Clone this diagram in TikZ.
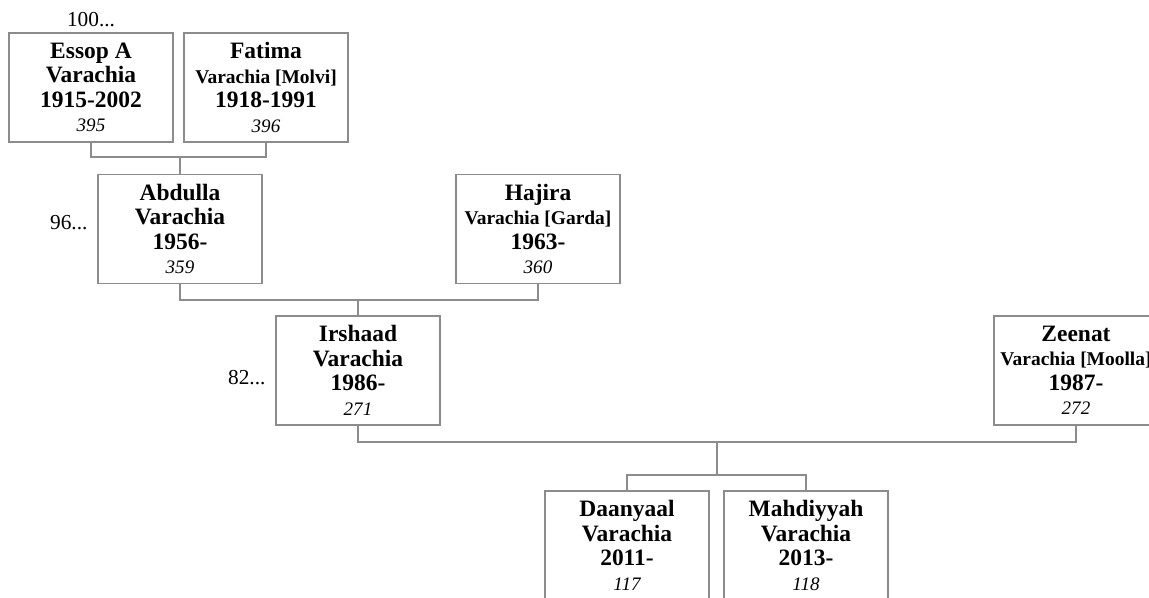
\documentclass[tikz,border=0pt]{standalone}
\usepackage{fontspec}
\setmainfont{Liberation Serif}
\usetikzlibrary{positioning}
\newcommand{\mdn}[1]{{\fontsize{14.6}{18.4}\selectfont #1}}
\newcommand{\pid}[1]{{\normalfont\fontsize{14.3}{18.4}\selectfont\itshape #1}}
\tikzset{
  prs/.style={rectangle,draw=black!45,fill=white,line width=.8pt,inner sep=0pt,
    minimum width=123pt,minimum height=81.75pt,align=center,
    font=\fontsize{17.6}{18.4}\selectfont\bfseries,
    execute at begin node=\rule{0pt}{15pt}},
  lnk/.style={draw=black!45,line width=.8pt},
  gn/.style={font=\fontsize{16}{18}\selectfont},
}
\begin{document}
\begin{tikzpicture}[x=0.75pt,y=-0.75pt]
\clip (0,0) rectangle (1149,597);
% ---- grandparents of Abdulla
\node[prs] (essop) at (91,87.5) {Essop A\\Varachia\\1915-2002\\\pid{395}};
\node[prs] (fatima) at (266,87.5) {Fatima\\\mdn{Varachia [Molvi]}\\1918-1991\\\pid{396}};
\node[gn] (g100) at (91,20) {100...};
% ---- parents of Irshaad
\node[prs] (abdulla) at (180,229) {Abdulla\\Varachia\\1956-\\\pid{359}};
\node[prs] (hajira) at (538,229) {Hajira\\\mdn{Varachia [Garda]}\\1963-\\\pid{360}};
\node[gn,left=4pt of abdulla.west,yshift=5pt] (g96) {96...};
% ---- couple
\node[prs] (irshaad) at (358,370.5) {Irshaad\\Varachia\\1986-\\\pid{271}};
\node[prs] (zeenat) at (1076,370.5) {Zeenat\\\mdn{Varachia [Moolla]}\\1987-\\\pid{272}};
\node[gn,left=4pt of irshaad.west,yshift=-5pt] (g82) {82...};
% ---- children
\node[prs] (daanyaal) at (627,545.5) {Daanyaal\\Varachia\\2011-\\\pid{117}};
\node[prs] (mahdiyyah) at (806,545.5) {Mahdiyyah\\Varachia\\2013-\\\pid{118}};
% ---- links
\coordinate (j1) at (180,157);
\coordinate (j2) at (358,300);
\coordinate (j3) at (717,442);
\coordinate (j4) at (717,475);
\draw[lnk] (essop.south) |- (j1) -| (fatima.south) (j1) -- (abdulla.north);
\draw[lnk] (abdulla.south) |- (j2) -| (hajira.south) (j2) -- (irshaad.north);
\draw[lnk] (irshaad.south) |- (j3) -| (zeenat.south) (j3) -- (j4);
\draw[lnk] (daanyaal.north) |- (j4) -| (mahdiyyah.north);
\end{tikzpicture}
\end{document}
